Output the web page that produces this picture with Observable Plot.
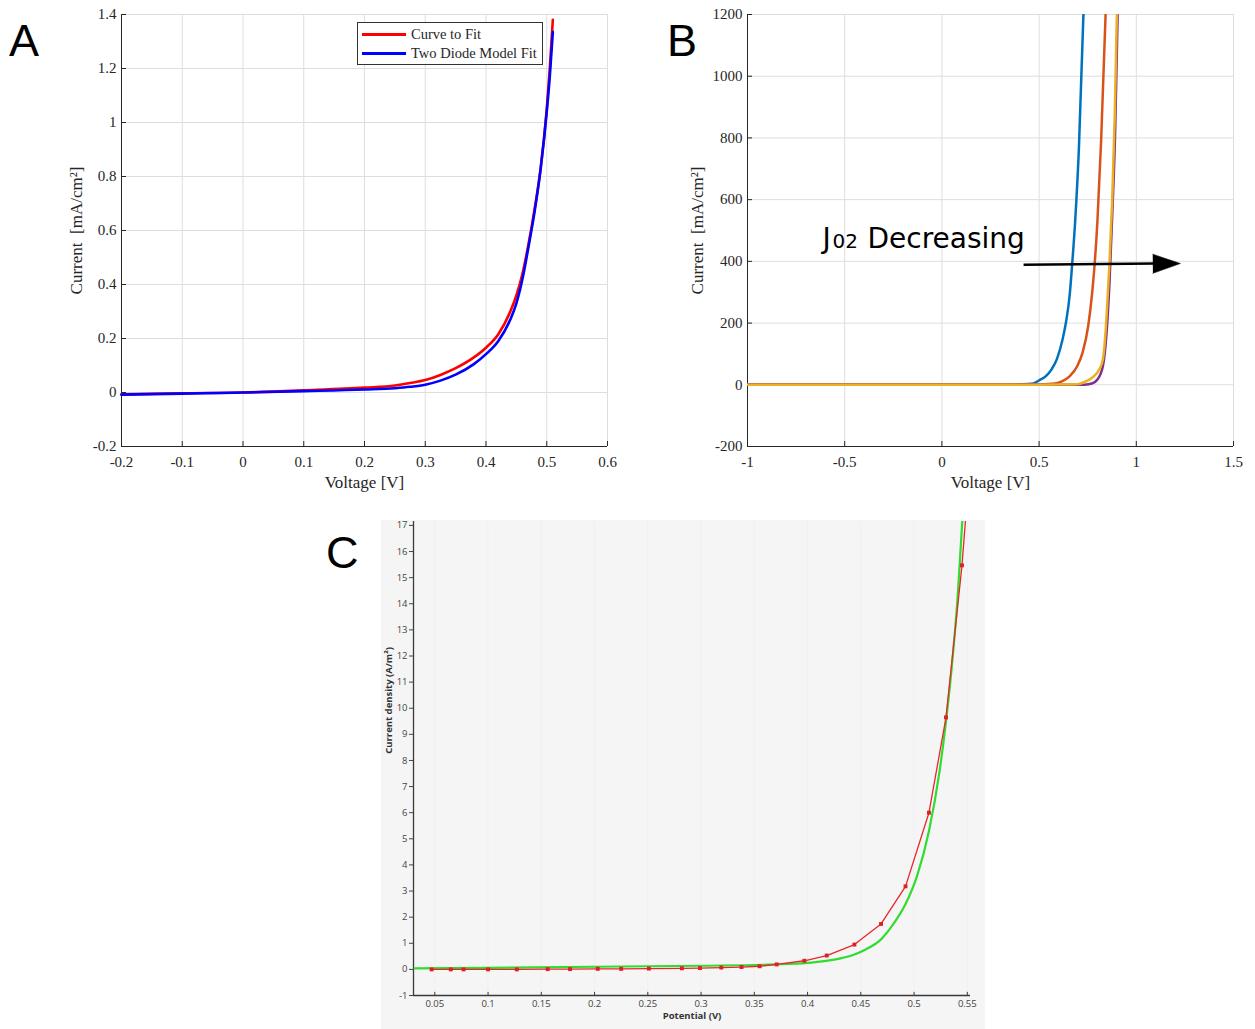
<!DOCTYPE html>
<html><head><meta charset="utf-8">
<script src="https://cdn.jsdelivr.net/npm/d3@7"></script>
<script src="https://cdn.jsdelivr.net/npm/@observablehq/plot@0.6"></script>
<style>
body{margin:0;background:#fff;width:1255px;height:1029px;position:relative;overflow:hidden}
.pan{position:absolute}
.letter{position:absolute;font-family:"Liberation Sans",Arial,sans-serif;font-size:45px;line-height:45px;color:#000}
#legA{position:absolute;left:357px;top:22px;width:186px;height:43px;box-sizing:border-box;border:1px solid #333;background:#fff;font-family:"Liberation Serif","Times New Roman",serif;font-size:14.5px;color:#262626}
#legA .row{position:absolute;left:4px;height:18px;display:flex;align-items:center;white-space:nowrap}
#legA .sw{display:inline-block;width:44px;height:3px;margin-right:5px}
#C{left:381px;top:520px;width:604px;height:509px;background:#f5f5f5}
</style></head><body>
<div id="A" class="pan" style="left:0;top:0"></div>
<div id="B" class="pan" style="left:630px;top:0"></div>
<div id="C" class="pan"></div>
<div class="letter" style="left:9px;top:18px">A</div>
<div class="letter" style="left:667px;top:18px">B</div>
<div class="letter" style="left:326px;top:530px">C</div>
<div id="legA">
  <div class="row" style="top:2px"><span class="sw" style="background:#ff0000"></span><span id="legRed"></span></div>
  <div class="row" style="top:21px"><span class="sw" style="background:#0000ff"></span><span id="legBlue"></span></div>
</div>
<script>
// ---------- Panel A data ----------
const aSeriesNames = ["Curve to Fit", "Two Diode Model Fit"];
const aRedV  = [-0.2, -0.1, 0, 0.1, 0.2, 0.25, 0.275, 0.3, 0.325, 0.35, 0.38, 0.4, 0.42, 0.44, 0.45, 0.46, 0.47, 0.48, 0.49, 0.5, 0.505, 0.51];
const aRedI  = [-0.007, -0.003, 0, 0.008, 0.018, 0.026, 0.035, 0.046, 0.065, 0.09, 0.13, 0.166, 0.215, 0.30, 0.36, 0.44, 0.55, 0.68, 0.83, 1.05, 1.2, 1.38];
const aBlueV = [-0.2, -0.1, 0, 0.1, 0.2, 0.25, 0.275, 0.3, 0.325, 0.35, 0.38, 0.4, 0.42, 0.44, 0.45, 0.46, 0.47, 0.48, 0.49, 0.5, 0.505, 0.51];
const aBlueI = [-0.008, -0.004, 0, 0.005, 0.011, 0.016, 0.021, 0.029, 0.044, 0.066, 0.105, 0.142, 0.19, 0.27, 0.33, 0.42, 0.54, 0.67, 0.83, 1.04, 1.17, 1.335];
const aXTicks = [-0.2, -0.1, 0, 0.1, 0.2, 0.3, 0.4, 0.5, 0.6];
const aYTicks = [-0.2, 0, 0.2, 0.4, 0.6, 0.8, 1, 1.2, 1.4];

// ---------- Panel B data ----------
const bBlueV   = [-1, 0, 0.3, 0.4, 0.469, 0.499, 0.535, 0.564, 0.592, 0.620, 0.639, 0.658, 0.669, 0.686, 0.705, 0.728];
const bBlueI   = [0, 0, 0.3, 1.5, 4, 14, 28, 50, 84, 145, 205, 295, 382, 535, 770, 1200];
const bOrangeV = [-1, 0, 0.4, 0.5, 0.582, 0.620, 0.658, 0.696, 0.724, 0.753, 0.772, 0.785, 0.800, 0.819, 0.842];
const bOrangeI = [0, 0, 0.3, 1.2, 4, 12, 28, 60, 105, 192, 292, 385, 530, 790, 1200];
const bYellowV = [-1, 0, 0.5, 0.6, 0.696, 0.734, 0.772, 0.810, 0.828, 0.838, 0.847, 0.862, 0.876, 0.889, 0.900];
const bYellowI = [0, 0, 0.3, 0.8, 2, 9, 23, 50, 82, 140, 222, 395, 600, 870, 1200];
const bPurpleV = [-1, 0, 0.6, 0.734, 0.772, 0.800, 0.828, 0.847, 0.862, 0.876, 0.891, 0.904];
const bPurpleI = [0, 0, 0.1, 0.5, 4, 17, 60, 168, 330, 546, 816, 1200];
const bXTicks = [-1, -0.5, 0, 0.5, 1, 1.5];
const bYTicks = [-200, 0, 200, 400, 600, 800, 1000, 1200];
const bNoteParts = ["J", "02", "Decreasing"];
const bNoteX = [-0.6245];
const bNoteY = [473];
const bArrowX = [0.42, 1.227];
const bArrowY = [389, 393];

// ---------- Panel C data ----------
const cMeasV = [0.047, 0.065, 0.077, 0.100, 0.127, 0.156, 0.177, 0.203, 0.225, 0.251, 0.282, 0.299, 0.319, 0.338, 0.355, 0.371, 0.397, 0.418, 0.444, 0.469, 0.492, 0.514, 0.530, 0.545];
const cMeasI = [0, 0, 0, 0, 0, 0.01, 0.01, 0.02, 0.02, 0.03, 0.04, 0.05, 0.07, 0.09, 0.12, 0.19, 0.33, 0.53, 0.95, 1.74, 3.18, 6.0, 9.65, 15.47];
const cMeasTailV = [0.5485];
const cMeasTailI = [17.3];
const cFitV = [0.031, 0.1, 0.2, 0.3, 0.37, 0.4, 0.43, 0.444, 0.455, 0.469, 0.48, 0.492, 0.503, 0.514, 0.524, 0.530, 0.535, 0.541, 0.5455];
const cFitI = [0.04, 0.06, 0.10, 0.14, 0.19, 0.25, 0.41, 0.57, 0.77, 1.15, 1.7, 2.5, 3.6, 5.3, 7.6, 9.5, 11.4, 14.3, 17.3];
const cXTicks = [0.05, 0.1, 0.15, 0.2, 0.25, 0.3, 0.35, 0.4, 0.45, 0.5, 0.55];
const cYTicks = [-1, 0, 1, 2, 3, 4, 5, 6, 7, 8, 9, 10, 11, 12, 13, 14, 15, 16, 17];
const cLabels = {x: "Potential (V)", y: "Current density (A/m²)"};

// ---------- helpers ----------
const zip = (xs, ys) => xs.map((x, i) => ({x, y: ys[i]}));
const fmt = d => String(d);
const serif = '"Liberation Serif","Times New Roman",serif';
const sans = '"Open Sans","Noto Sans",sans-serif';
const gridC = "#dedede", axC = "#262626";

function matlabFrame(xt, yt, xd, yd, frameW, frameH, xLabel, yLabel, yLabelDx) {
  const tx = (xd[1] - xd[0]) * 5 / frameW;
  const ty = (yd[1] - yd[0]) * 5 / frameH;
  return [
    Plot.gridX(xt, {stroke: gridC, strokeOpacity: 1}),
    Plot.gridY(yt, {stroke: gridC, strokeOpacity: 1}),
    Plot.ruleX(xt, {x: d => d, y1: yd[0], y2: yd[0] + ty, stroke: axC}),
    Plot.ruleY(yt, {y: d => d, x1: xd[0], x2: xd[0] + tx, stroke: axC}),
    Plot.ruleX([xd[0]], {stroke: axC}),
    Plot.ruleY([yd[0]], {stroke: axC}),
    Plot.axisX(xt, {tickSize: 0, tickPadding: 10, tickFormat: fmt, fontSize: 15, fontFamily: serif, color: axC, label: null}),
    Plot.axisY(yt, {tickSize: 0, tickPadding: 5, tickFormat: fmt, fontSize: 15, fontFamily: serif, color: axC, label: null}),
    Plot.text([xLabel], {text: d => d, frameAnchor: "bottom", dy: 41, fontSize: 17, fontFamily: serif, fill: axC}),
    Plot.text([yLabel], {text: d => d, frameAnchor: "left", textAnchor: "middle", dx: yLabelDx, rotate: -90, fontSize: 17, letterSpacing: 1, fontFamily: serif, fill: axC})
  ];
}
const yLabelText = "Current\u2002[mA/cm²]";

// ---------- Panel A ----------
const aXd = [-0.2, 0.6], aYd = [-0.2, 1.4];
document.getElementById("legRed").textContent = aSeriesNames[0];
document.getElementById("legBlue").textContent = aSeriesNames[1];
document.getElementById("A").append(Plot.plot({
  width: 625, height: 505,
  marginLeft: 121, marginRight: 18, marginTop: 14, marginBottom: 59,
  style: {background: "transparent", overflow: "visible"},
  x: {domain: aXd}, y: {domain: aYd},
  marks: [
    ...matlabFrame(aXTicks, aYTicks, aXd, aYd, 486, 432, "Voltage [V]", yLabelText, -45),
    Plot.line(zip(aRedV, aRedI), {x: "x", y: "y", stroke: "#ff0000", strokeWidth: 2.6, curve: "monotone-x"}),
    Plot.line(zip(aBlueV, aBlueI), {x: "x", y: "y", stroke: "#0000ff", strokeWidth: 2.6, curve: "monotone-x"})
  ]
}));

// ---------- Panel B ----------
const bXd = [-1, 1.5], bYd = [-200, 1200];
const noteFont = '"DejaVu Sans",sans-serif';
document.getElementById("B").append(Plot.plot({
  width: 625, height: 505,
  marginLeft: 117, marginRight: 22, marginTop: 14, marginBottom: 59,
  style: {background: "transparent", overflow: "visible"},
  x: {domain: bXd}, y: {domain: bYd},
  marks: [
    ...matlabFrame(bXTicks, bYTicks, bXd, bYd, 486, 432, "Voltage [V]", yLabelText, -50),
    Plot.line(zip(bBlueV, bBlueI), {x: "x", y: "y", stroke: "#0072BD", strokeWidth: 2.5, curve: "monotone-x", clip: true}),
    Plot.line(zip(bOrangeV, bOrangeI), {x: "x", y: "y", stroke: "#D95319", strokeWidth: 2.5, curve: "monotone-x", clip: true}),
    Plot.line(zip(bPurpleV, bPurpleI), {x: "x", y: "y", stroke: "#7E2F8E", strokeWidth: 2.5, curve: "monotone-x", clip: true}),
    Plot.line(zip(bYellowV, bYellowI), {x: "x", y: "y", stroke: "#EDB120", strokeWidth: 2.5, curve: "monotone-x", clip: true}),
    Plot.text([bNoteParts[0]], {x: bNoteX, y: bNoteY, text: d => d, textAnchor: "start", dx: 2, fontSize: 28, fontFamily: noteFont, fill: "#000"}),
    Plot.text([bNoteParts[1]], {x: bNoteX, y: bNoteY, text: d => d, textAnchor: "start", dx: 12, dy: 2.5, fontSize: 20, fontFamily: noteFont, fill: "#000"}),
    Plot.text([bNoteParts[2]], {x: bNoteX, y: bNoteY, text: d => d, textAnchor: "start", dx: 47, fontSize: 28, fontFamily: noteFont, fill: "#000"}),
    Plot.link([0], {x1: bArrowX[0], y1: bArrowY[0], x2: 1.1, y2: (bArrowY[0] + bArrowY[1]) / 2 + 2, stroke: "#000", strokeWidth: 2.5}),
    Plot.vector([0], {x: bArrowX[1], y: bArrowY[1], length: 27.6, r: 9.6, rotate: 89.5, shape: "spike", anchor: "end", fill: "#000", stroke: "#000", strokeWidth: 0.5})
  ]
}));

// ---------- Panel C ----------
const cXd = [0.03, 0.553], cYd = [-1, 17.15];
document.getElementById("C").append(Plot.plot({
  width: 604, height: 509,
  marginLeft: 32, marginRight: 15, marginTop: 1, marginBottom: 34,
  style: {background: "transparent", overflow: "visible"},
  x: {domain: cXd}, y: {domain: cYd},
  marks: [
    Plot.gridX(cXTicks, {stroke: "#f0f0f0", strokeOpacity: 1}),
    Plot.ruleX([cXd[0]], {stroke: "#3a3a3a", strokeWidth: 1.3}),
    Plot.ruleY([cYd[0]], {stroke: "#3a3a3a", strokeWidth: 1.3}),
    Plot.axisX(cXTicks, {tickSize: 0, tickPadding: 5, tickFormat: fmt, fontSize: 9.5, fontFamily: sans, color: "#444", label: null}),
    Plot.ruleX(cXTicks, {x: d => d, y1: cYd[0], y2: cYd[0] + 0.12, stroke: "#3a3a3a"}),
    Plot.axisY(cYTicks, {tickSize: 4, tickPadding: 2, tickFormat: fmt, fontSize: 9.5, fontFamily: sans, color: "#444", label: null}),
    Plot.text([cLabels.x], {text: d => d, frameAnchor: "bottom", dy: 23, fontSize: 9.5, fontWeight: "bold", fontFamily: sans, fill: "#333"}),
    Plot.text([cLabels.y], {text: d => d, y: [10.3], frameAnchor: "left", textAnchor: "middle", dx: -25, rotate: -90, fontSize: 9.5, fontWeight: "bold", fontFamily: sans, fill: "#333"}),
    Plot.line(zip(cFitV, cFitI), {x: "x", y: "y", stroke: "#2fdc2f", strokeWidth: 2.2, curve: "monotone-x", clip: true}),
    Plot.line(zip(cMeasV, cMeasI).concat(zip(cMeasTailV, cMeasTailI)), {x: "x", y: "y", stroke: "#e8262a", strokeWidth: 1.3, clip: true}),
    Plot.dot(zip(cMeasV, cMeasI), {x: "x", y: "y", symbol: "square", r: 2.2, fill: "#e01f22", stroke: "none"})
  ]
}));
</script>
</body></html>
